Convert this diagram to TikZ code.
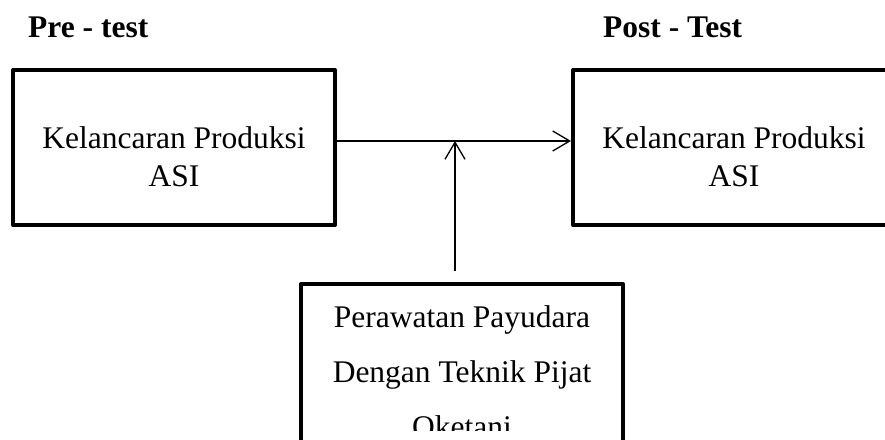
\documentclass[tikz,border=0pt]{standalone}
\usepackage{fontspec}
\setmainfont{Liberation Serif}
\usetikzlibrary{arrows.meta}
\tikzset{
  kotak/.style={draw, line width=4pt, minimum width=322pt, minimum height=155pt, inner sep=0pt, line join=round},
  isi/.style={font=\fontsize{31.5}{38}\selectfont, align=center, inner sep=0pt},
  judul/.style={font=\fontsize{31.5}{38}\selectfont\bfseries, anchor=base west, inner sep=0pt},
  panah/.style={line width=1.3pt, -{Straight Barb[length=17pt,width=20pt]}}
}
\begin{document}
\begin{tikzpicture}[x=1pt,y=-1pt]
\clip (0,0) rectangle (885,439);
\node[judul] (pre label) at (28,37) {Pre - test};
\node[judul] (post label) at (603,37) {Post - Test};
\node[kotak] (pre) at (174,147.5) {};
\node[kotak] (post) at (734,147.5) {};
\node[kotak, minimum height=250pt] (treat) at (462,409) {};
\node[isi] (pre text) at (174,156.25) {Kelancaran Produksi\\ASI};
\node[isi] (post text) at (734,156.25) {Kelancaran Produksi\\ASI};
% teks kotak bawah terpotong
\begin{scope}
\clip (0,0) rectangle (885,430);
\node[isi, font=\fontsize{31.5}{55}\selectfont] (treat text) at (462,371.25) {Perawatan Payudara\\Dengan Teknik Pijat\\Oketani};
\end{scope}
\coordinate (junction) at (455,141);
\coordinate (feed) at (455,271);
\draw[panah] (pre.east |- junction) -- (post.west |- junction);
\draw[panah] (feed) -- (junction);
\end{tikzpicture}
\end{document}
